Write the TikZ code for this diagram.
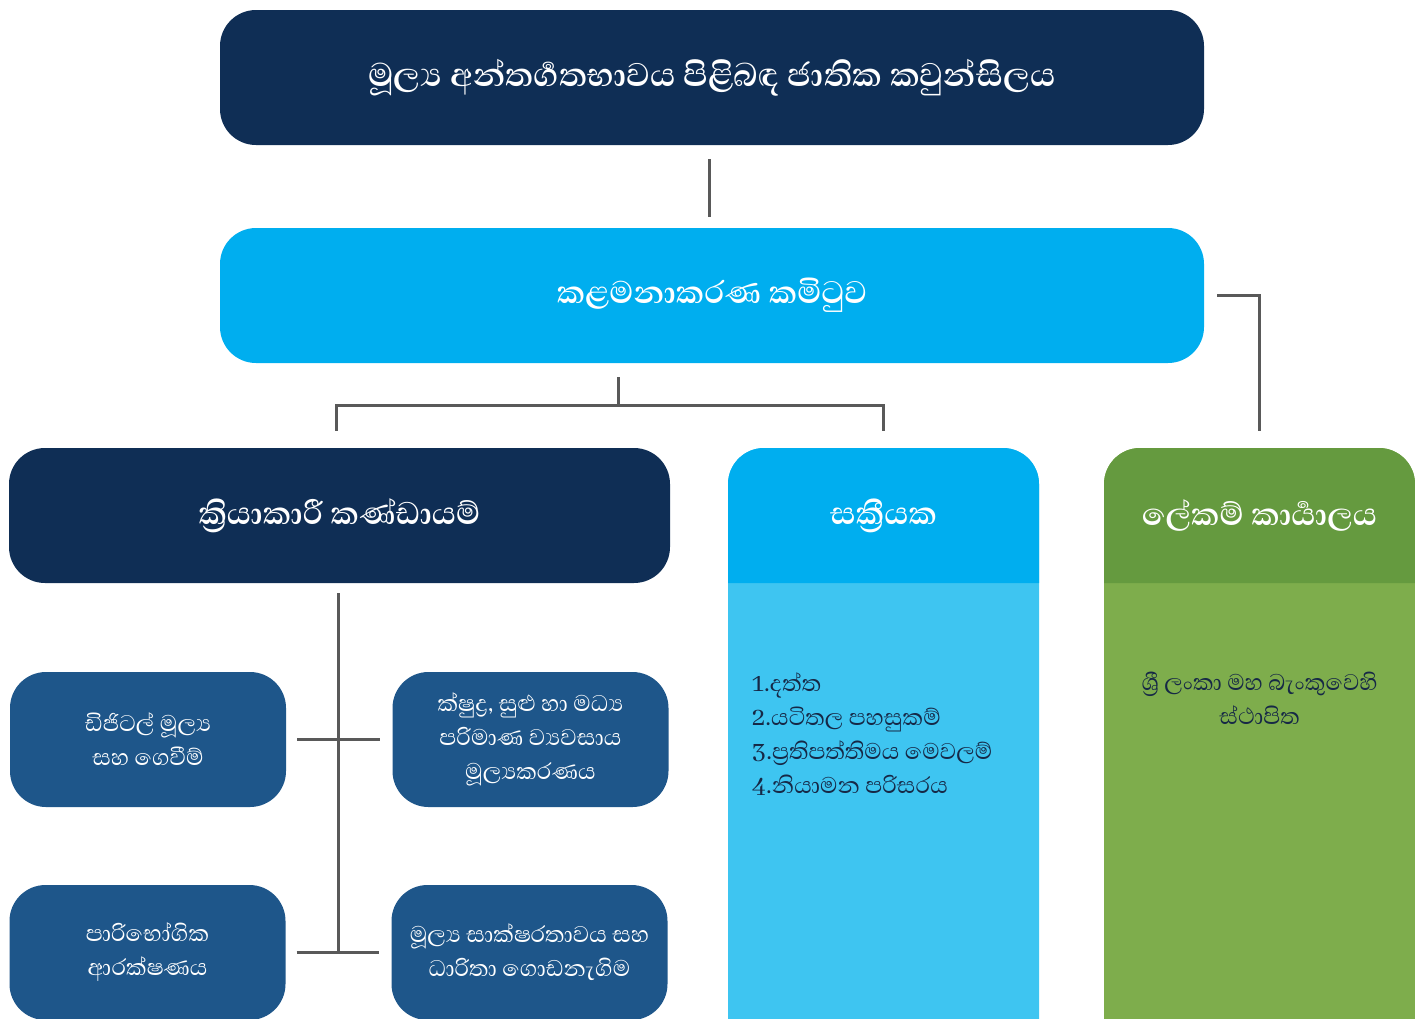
\documentclass[tikz,border=0pt]{standalone}
\usepackage{fontspec}
\setmainfont{Abhaya Libre}[Script=Sinhala]
\usetikzlibrary{positioning}
\definecolor{navy}{RGB}{15,46,85}
\definecolor{skyA}{RGB}{0,174,239}
\definecolor{skyB}{RGB}{62,197,241}
\definecolor{leafA}{RGB}{101,154,63}
\definecolor{leafB}{RGB}{126,173,76}
\definecolor{midblue}{RGB}{30,86,138}
\definecolor{wire}{RGB}{89,89,89}
\definecolor{inktext}{RGB}{22,40,70}
\def\zwj{^^^^200d}
\tikzset{
  bigbox/.style={rounded corners=36pt, minimum width=984pt, minimum height=135pt,
    text=white, font=\fontsize{40}{46}\selectfont\bfseries, inner sep=0pt},
  subbox/.style={rounded corners=36pt, fill=midblue, minimum width=276pt, minimum height=135pt,
    text=white, align=center, font=\fontsize{29}{34}\selectfont, inner sep=0pt},
  headtxt/.style={text=white, font=\fontsize{40}{46}\selectfont\bfseries, inner sep=0pt},
  wireline/.style={draw=wire, line width=3pt},
}
\begin{document}
\begin{tikzpicture}[x=1pt,y=-1pt]
\useasboundingbox (0,0) rectangle (1415,1018);
\clip (0,0) rectangle (1415,1018);
% council and management committee
\node[bigbox, fill=navy, font=\fontsize{42}{48}\selectfont\bfseries] (council) at (712,77.5) {මූල්\zwj ය අන්තර්\zwj ගතභාවය පිළිබඳ ජාතික කවුන්සිලය};
\node[bigbox, fill=skyA] (mgmt) at (712,295.5) {කළමනාකරණ කමිටුව};
% operational teams
\node[bigbox, fill=navy, minimum width=661pt] (ops) at (339.5,515.5) {ක්\zwj රියාකාරී කණ්ඩායම්};
% activator column
\fill[skyB, rounded corners=36pt] (728,448) rectangle (1039,1080);
\fill[skyA] (728,583) [rounded corners=36pt] -- (728,448) -- (1039,448) [sharp corners] -- (1039,583) -- cycle;
\node[headtxt] (act) at (883.5,515.5) {සක්\zwj රීයක};
\node[anchor=north west, align=left, text=inktext, font=\fontsize{29}{34}\selectfont, inner sep=0pt] (actlist) at (752,672)
  {1.දත්ත\\2.යටිතල පහසුකම්\\3.ප්\zwj රතිපත්තිමය මෙවලම්\\4.නියාමන පරිසරය};
% secretariat column
\fill[leafB, rounded corners=36pt] (1104,448) rectangle (1415,1080);
\fill[leafA] (1104,583) [rounded corners=36pt] -- (1104,448) -- (1415,448) [sharp corners] -- (1415,583) -- cycle;
\node[headtxt] (sec) at (1259.5,515.5) {ලේකම් කාර්\zwj යාලය};
\node[anchor=north, align=center, text=inktext, font=\fontsize{29}{34}\selectfont, inner sep=0pt] (secnote) at (1259.5,672)
  {ශ්\zwj රී ලංකා මහ බැංකුවෙහි\\ස්ථාපිත};
% working groups
\node[subbox] (digital) at (148,739.5) {ඩිජිටල් මූල්\zwj ය\\සහ ගෙවීම්};
\node[subbox] (msme) at (530.5,739.5) {ක්ෂුද්\zwj ර, සුළු හා මධ්\zwj ය\\පරිමාණ ව්\zwj යවසාය\\මූල්\zwj යකරණය};
\node[subbox] (consumer) at (147.5,952.5) {පාරිභෝගික\\ආරක්ෂණය};
\node[subbox] (literacy) at (529.5,952.5) {මූල්\zwj ය සාක්ෂරතාවය සහ\\ධාරිතා ගොඩනැගිම};
% connectors
\draw[wireline] ([xshift=-3pt,yshift=-14pt]council.south) -- ([xshift=-3pt,yshift=11pt]mgmt.north);
\draw[wireline] ([xshift=13pt]mgmt.east) -| ([yshift=17pt]sec |- ops.north);
\coordinate (fork) at (618,405);
\draw[wireline] (fork |- mgmt.south) ++(0,14) -- (fork);
\draw[wireline] ([yshift=17pt]ops.north -| 336,0) |- (fork) -| ([yshift=17pt]act |- ops.north);
\coordinate (spine) at (338,951);
\draw[wireline] ([yshift=-10pt]ops.south -| spine) -- (spine);
\draw[wireline] ([xshift=11pt]digital.east) -- ([xshift=-12pt]msme.west);
\draw[wireline] ([xshift=11pt]consumer.east) -- ([xshift=-12pt]literacy.west);
\end{tikzpicture}
\end{document}
